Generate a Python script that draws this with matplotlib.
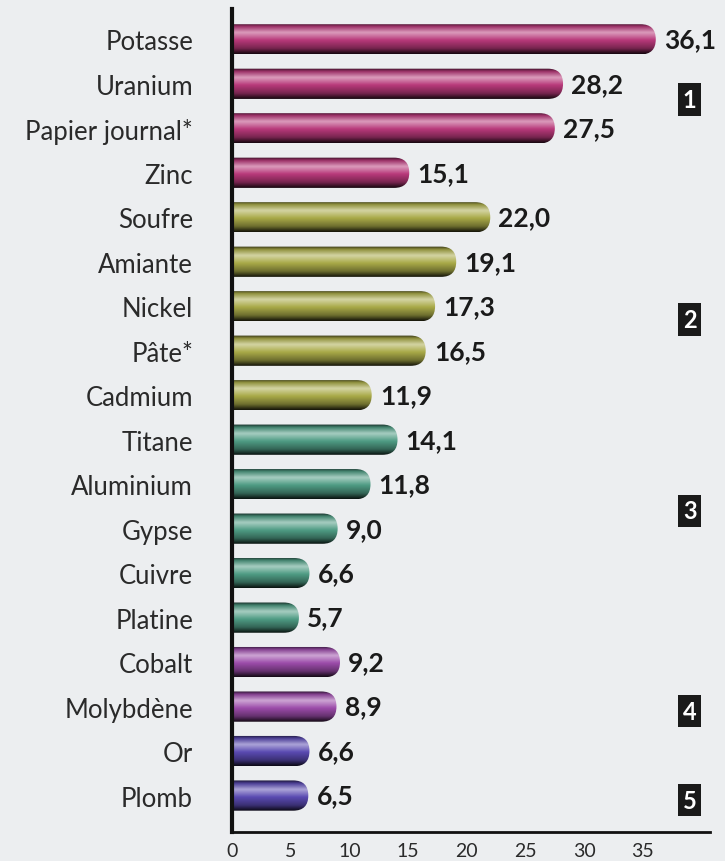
import numpy as np
import matplotlib.pyplot as plt
from matplotlib.colors import LinearSegmentedColormap, to_rgb
from matplotlib.patches import FancyBboxPatch

materials = ['Potasse', 'Uranium', 'Papier journal*', 'Zinc',
             'Soufre', 'Amiante', 'Nickel', 'Pâte*', 'Cadmium',
             'Titane', 'Aluminium', 'Gypse', 'Cuivre', 'Platine',
             'Cobalt', 'Molybdène', 'Or', 'Plomb']
values = [36.1, 28.2, 27.5, 15.1,
          22.0, 19.1, 17.3, 16.5, 11.9,
          14.1, 11.8, 9.0, 6.6, 5.7,
          9.2, 8.9, 6.6, 6.5]
groups = [1, 1, 1, 1,
          2, 2, 2, 2, 2,
          3, 3, 3, 3, 3,
          4, 4, 5, 5]
group_colors = {1: '#b8397a', 2: '#a9aa48', 3: '#4f9c84', 4: '#9c4caa', 5: '#5a4ab2'}
group_box_y = {1: 1.35, 2: 6.3, 3: 10.6, 4: 15.1, 5: 17.1}
xticks = [0, 5, 10, 15, 20, 25, 30, 35]

plt.rcParams['font.family'] = ['Lato', 'DejaVu Sans']

fig = plt.figure(figsize=(7.25, 8.62), dpi=100, facecolor='#eceef0')
ax = fig.add_axes([0.32, 0.0336, 0.659, 0.9544])
ax.set_facecolor('none')

y = np.arange(len(materials))
bars = ax.barh(y, values, height=0.68, color='none')

ax.set_xlim(0, 40.7)
ax.set_ylim(17.82, -0.674)

# x-units -> y-units for equal pixel length (aspect correction for rounded ends)
aspect = (1 / 44.5) / (1 / 11.74)


def shade(base):
    c = np.array(to_rgb(base))
    dark = c * 0.3
    light = c + (1 - c) * 0.5
    return LinearSegmentedColormap.from_list(
        'b', [(0, dark), (0.1, c * 0.85), (0.3, light), (0.55, c), (0.82, c * 0.65), (1, dark * 0.4)])


for bar, g in zip(bars, groups):
    x0, y0 = bar.get_x(), bar.get_y()
    w, h = bar.get_width(), bar.get_height()
    rnd = h / 2 / aspect
    patch = FancyBboxPatch((x0 - 3, y0), w + 3, h,
                           boxstyle=f'round,pad=0,rounding_size={rnd}',
                           mutation_aspect=aspect,
                           facecolor='none', edgecolor='none')
    ax.add_patch(patch)
    grad = np.linspace(0, 1, 64).reshape(-1, 1)
    im = ax.imshow(grad, cmap=shade(group_colors[g]), aspect='auto',
                   extent=(x0, x0 + w, y0 + h, y0), origin='upper',
                   interpolation='bicubic', zorder=2)
    im.set_clip_path(patch)

for yi, v in zip(y, values):
    ax.text(v + 0.7, yi, f'{v:.1f}'.replace('.', ','), va='center', ha='left',
            fontsize=19, fontweight='bold', color='#1a1a1a')

for g, gy in group_box_y.items():
    ax.text(39.0, gy, str(g), ha='center', va='center', fontsize=17,
            fontweight='bold', color='white',
            bbox=dict(boxstyle='square,pad=0.2', facecolor='#1a1a1a', edgecolor='none'))

ax.set_yticks(y)
ax.set_yticklabels(materials, fontsize=18.5, color='#2a2a2a')
ax.set_xticks(xticks)
ax.set_xticklabels([str(t) for t in xticks], fontsize=14, color='#2a2a2a')
ax.tick_params(axis='both', length=0)
ax.tick_params(axis='y', pad=28)
ax.tick_params(axis='x', pad=7)

for s in ['top', 'right']:
    ax.spines[s].set_visible(False)
ax.spines['left'].set_linewidth(3)
ax.spines['bottom'].set_linewidth(2)
ax.spines['left'].set_color('#111111')
ax.spines['bottom'].set_color('#111111')

fig.savefig('out.png', dpi=100, facecolor=fig.get_facecolor())
